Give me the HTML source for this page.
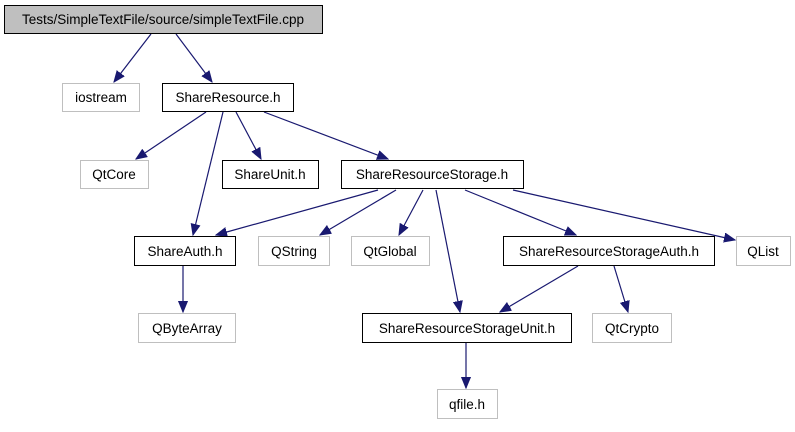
<!DOCTYPE html>
<html><head><meta charset="utf-8"><style>
html,body{margin:0;padding:0;background:#fff;}
svg text{font-family:"Liberation Sans",Arial,sans-serif;font-size:13.5px;}
</style></head><body>
<svg width="795" height="427" viewBox="0 0 795 427" xmlns="http://www.w3.org/2000/svg">
<defs>
<marker id="a" markerUnits="userSpaceOnUse" markerWidth="12" markerHeight="10" refX="11" refY="5" orient="auto">
<path d="M0,0.5 L11,5 L0,9.5 z" fill="#191970" stroke="#191970"/>
</marker>
</defs>
<g stroke="#191970" stroke-width="1.2" fill="none" marker-end="url(#a)">
<line x1="151" y1="34" x2="114" y2="82"/>
<line x1="176" y1="34" x2="212" y2="82"/>
<line x1="206" y1="112" x2="136" y2="159"/>
<line x1="223" y1="112" x2="193" y2="235"/>
<line x1="236" y1="112" x2="261" y2="159"/>
<line x1="264" y1="112" x2="388" y2="159"/>
<line x1="378" y1="190" x2="216" y2="235"/>
<line x1="396" y1="190" x2="320" y2="235"/>
<line x1="423" y1="190" x2="399" y2="235"/>
<line x1="436" y1="190" x2="460" y2="312"/>
<line x1="465" y1="190" x2="576" y2="235"/>
<line x1="513" y1="190" x2="735" y2="240"/>
<line x1="183" y1="266" x2="183" y2="312"/>
<line x1="578" y1="266" x2="500" y2="312"/>
<line x1="614" y1="266" x2="628" y2="312"/>
<line x1="466" y1="343" x2="466" y2="388"/>
</g>
<g stroke-width="1" text-anchor="middle">
<rect x="4.5" y="5.5" width="318" height="28" fill="#bfbfbf" stroke="#000"/>
<text x="163" y="24">Tests/SimpleTextFile/source/simpleTextFile.cpp</text>
<rect x="62.5" y="83.5" width="77" height="28" fill="#fff" stroke="#bfbfbf"/>
<text x="101" y="102">iostream</text>
<rect x="162.5" y="83.5" width="131" height="28" fill="#fff" stroke="#000"/>
<text x="228" y="102">ShareResource.h</text>
<rect x="80.5" y="160.5" width="68" height="28" fill="#fff" stroke="#bfbfbf"/>
<text x="114" y="179">QtCore</text>
<rect x="222.5" y="160.5" width="96" height="28" fill="#fff" stroke="#000"/>
<text x="270" y="179">ShareUnit.h</text>
<rect x="341.5" y="160.5" width="182" height="28" fill="#fff" stroke="#000"/>
<text x="432" y="179">ShareResourceStorage.h</text>
<rect x="134.5" y="236.5" width="101" height="29" fill="#fff" stroke="#000"/>
<text x="185" y="256">ShareAuth.h</text>
<rect x="258.5" y="236.5" width="71" height="29" fill="#fff" stroke="#bfbfbf"/>
<text x="294" y="256">QString</text>
<rect x="351.5" y="236.5" width="78" height="29" fill="#fff" stroke="#bfbfbf"/>
<text x="390" y="256">QtGlobal</text>
<rect x="503.5" y="236.5" width="211" height="29" fill="#fff" stroke="#000"/>
<text x="609" y="256">ShareResourceStorageAuth.h</text>
<rect x="736.5" y="236.5" width="54" height="29" fill="#fff" stroke="#bfbfbf"/>
<text x="763" y="256">QList</text>
<rect x="138.5" y="313.5" width="97" height="29" fill="#fff" stroke="#bfbfbf"/>
<text x="187" y="333">QByteArray</text>
<rect x="362.5" y="313.5" width="209" height="29" fill="#fff" stroke="#000"/>
<text x="467" y="333">ShareResourceStorageUnit.h</text>
<rect x="592.5" y="313.5" width="79" height="29" fill="#fff" stroke="#bfbfbf"/>
<text x="632" y="333">QtCrypto</text>
<rect x="437.5" y="389.5" width="60" height="29" fill="#fff" stroke="#bfbfbf"/>
<text x="467" y="409">qfile.h</text>
</g>
</svg>
</body></html>
